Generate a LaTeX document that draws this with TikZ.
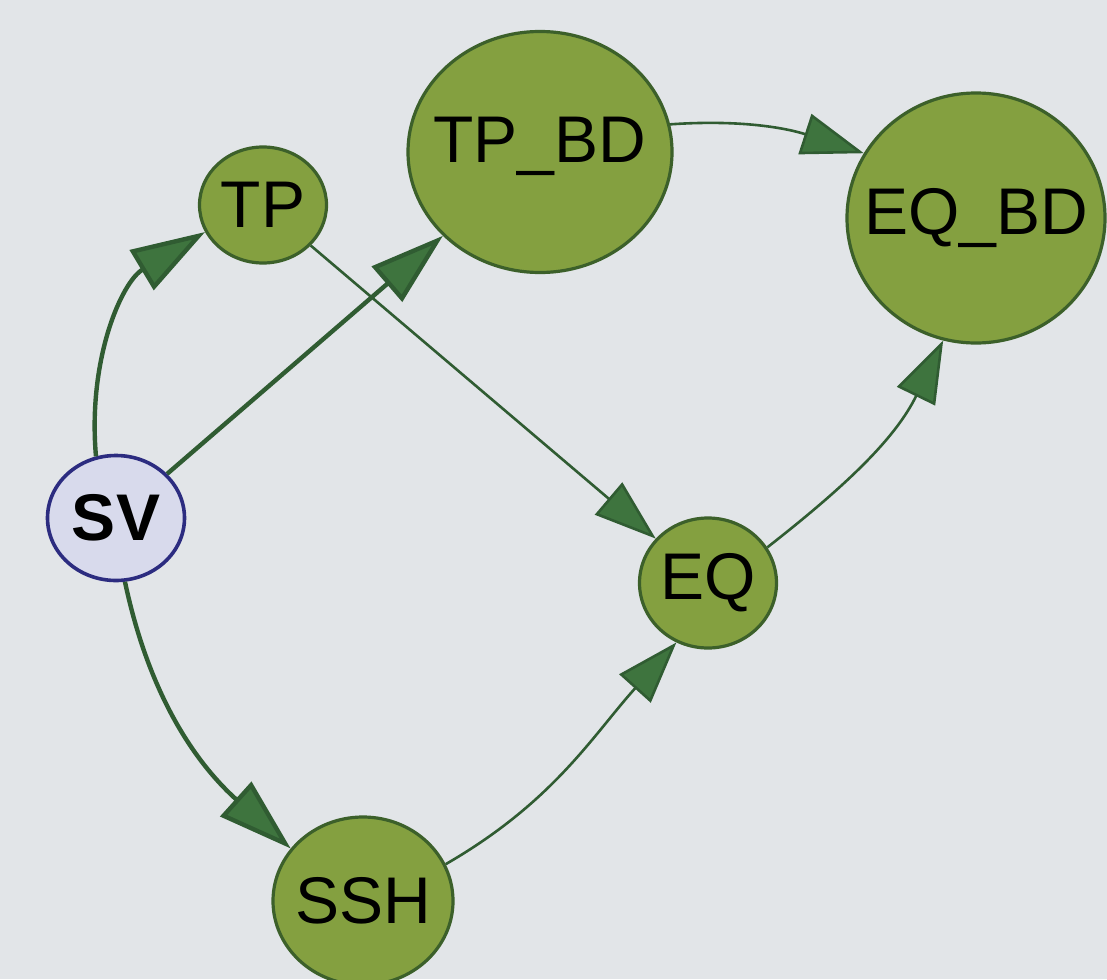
\documentclass[tikz,border=0pt]{standalone}
\usepackage{fontspec}
\setmainfont{Liberation Sans}
\usetikzlibrary{arrows.meta,shapes.geometric}
\definecolor{bgcol}{RGB}{226,229,232}
\definecolor{nodefill}{RGB}{132,160,64}
\definecolor{nodeborder}{RGB}{60,96,42}
\definecolor{svfill}{RGB}{216,218,236}
\definecolor{svborder}{RGB}{44,44,128}
\definecolor{edgecol}{RGB}{48,92,50}
\definecolor{arrowfill}{RGB}{62,116,62}
\tikzset{
  gnode/.style={ellipse, draw=nodeborder, fill=nodefill, line width=1.6pt, inner sep=0pt},
  svnode/.style={ellipse, draw=svborder, fill=svfill, line width=1.8pt, inner sep=0pt},
  gtext/.style={font=\fontsize{33}{40}\selectfont, text=black, inner sep=0pt},
  svtext/.style={font=\fontsize{33}{40}\selectfont\bfseries, text=black, inner sep=0pt},
  thickedge/.style={draw=edgecol, line width=2.2pt,
    -{Triangle[length=37pt,width=23pt,fill=arrowfill]}},
  thinedge/.style={draw=edgecol, line width=1.3pt,
    -{Triangle[length=31pt,width=21pt,fill=arrowfill]}}
}
\begin{document}
\begin{tikzpicture}[x=0.5pt,y=0.5pt]
\useasboundingbox (0,0) rectangle (1107,-979);
\clip (0,0) rectangle (1107,-979);
\fill[bgcol] (0,0) rectangle (1107,-979);
% nodes
\node[svnode, minimum width=68.5pt, minimum height=62.5pt,
  label={[svtext]center:SV}] (SV) at (116,-518) {};
\node[gnode, minimum width=63.5pt, minimum height=58pt,
  label={[gtext]center:TP}] (TP) at (263,-205) {};
\node[gnode, minimum width=132pt, minimum height=120.5pt,
  label={[gtext,yshift=3pt]center:TP\_BD}] (TPBD) at (540,-152) {};
\node[gnode, minimum width=129pt, minimum height=125pt,
  label={[gtext]center:EQ\_BD}] (EQBD) at (976,-218) {};
\node[gnode, minimum width=68.5pt, minimum height=65pt,
  label={[gtext]center:EQ}] (EQ) at (708,-583) {};
\node[gnode, minimum width=90pt, minimum height=84pt,
  label={[gtext]center:SSH}] (SSH) at (363,-901) {};
% edges
\draw[thickedge] (SV.108) to[out=95,in=211] (TP.205);
\draw[thickedge] (SV) -- (TPBD);
\draw[thickedge] (SV.278) to[out=-78,in=138] (SSH.144);
\draw[thinedge] (TP) -- (EQ);
\draw[thinedge] (TPBD.12) to[out=4,in=162] (EQBD.150);
\draw[thinedge] (EQ.31) to[out=38,in=244] (EQBD.255);
\draw[thinedge] (SSH.24) to[out=30,in=228] (EQ.242);
\end{tikzpicture}
\end{document}
